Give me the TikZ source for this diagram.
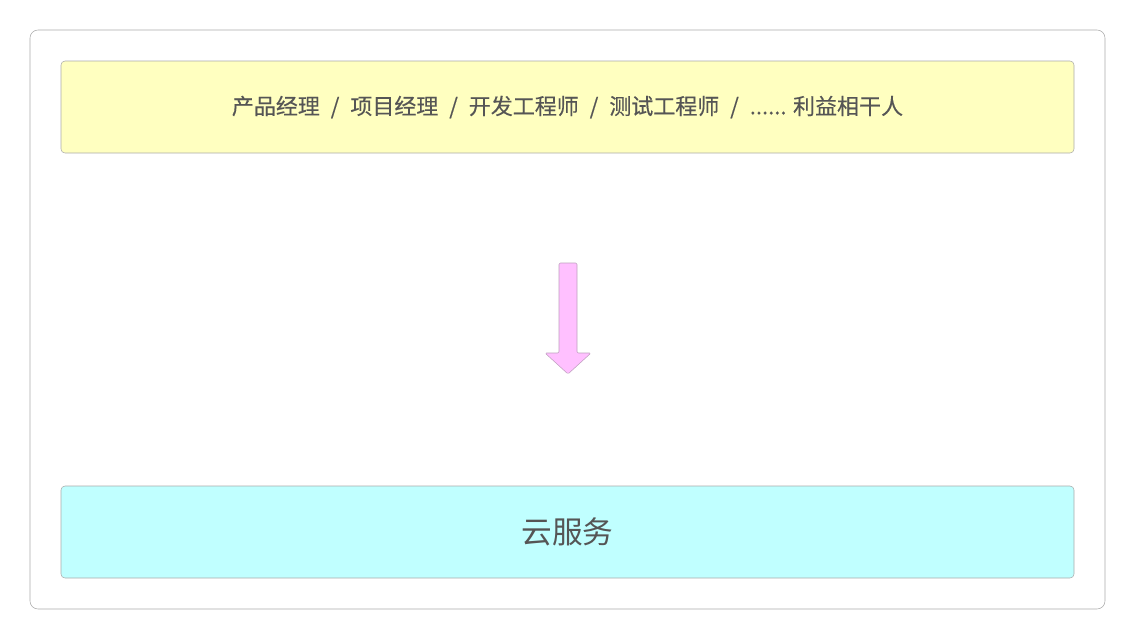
\documentclass[tikz,border=0pt]{standalone}
\usepackage{fontspec}
\setmainfont{Noto Sans CJK SC}
\newfontfamily\rolefont[FakeBold=0.35]{Noto Sans CJK SC}
\usepackage{tikz}
\usetikzlibrary{positioning, calc}
\definecolor{boxline}{RGB}{170, 170, 170}
\definecolor{roleyellow}{RGB}{255, 255, 192}
\definecolor{cloudcyan}{RGB}{192, 255, 255}
\definecolor{flowpink}{RGB}{255, 192, 255}
\definecolor{flowline}{RGB}{190, 160, 190}
\definecolor{labelgray}{RGB}{85, 85, 85}
\newcommand{\rolesep}{\hspace{4.5pt}/\hspace{4.5pt}}

\begin{document}
\begin{tikzpicture}[x=0.75pt, y=-0.75pt,
    layerbox/.style={draw=boxline, rounded corners=3pt, minimum width=759.75pt,
      minimum height=69pt, inner sep=0pt, text=labelgray}]
  \useasboundingbox (0, 0) rectangle (1136, 640);

  % Outer frame
  \draw[boxline, rounded corners=6pt] (30, 30) rectangle (1105, 609);

  % Stakeholders
  \node[layerbox, fill=roleyellow, font=\rolefont\fontsize{16.5}{18}\selectfont] (roles) at (567.5, 107)
    {产品经理 \rolesep{} 项目经理 \rolesep{} 开发工程师 \rolesep{} 测试工程师 \rolesep{} ...... 利益相干人};

  % Cloud service
  \node[layerbox, fill=cloudcyan, font=\fontsize{23}{26}\selectfont] (cloud) at (567.5, 532) {云服务};

  % Arrow between the layers
  \coordinate (flow) at (568, 263);
  \draw[flowline, fill=flowpink, line join=round, rounded corners=1pt]
    ($(flow)+(-9, 0)$) -- ++(0, 90) -- ++(-14, 0) -- ($(flow)+(0, 111)$)
    -- ($(flow)+(23, 90)$) -- ++(-14, 0) -- ($(flow)+(9, 0)$) -- cycle;
\end{tikzpicture}
\end{document}
